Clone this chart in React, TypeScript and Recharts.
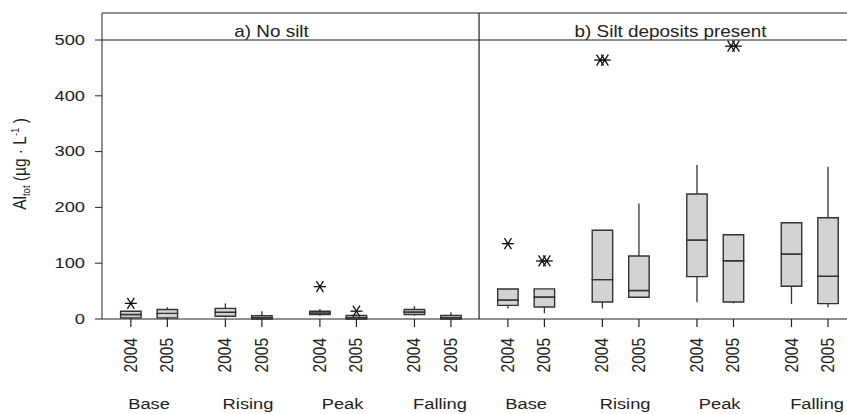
import React from 'react';
import {
  ComposedChart, XAxis, YAxis, Scatter, ReferenceArea, ReferenceLine
} from 'recharts';

// categories
const panels = ['a) No silt', 'b) Silt deposits present'];
const stages = ['Base', 'Rising', 'Peak', 'Falling'];
const years = ['2004', '2005'];
const yTicks = [0, 100, 200, 300, 400, 500];

// box statistics, order: Base04, Base05, Rising04, Rising05, Peak04, Peak05, Falling04, Falling05
const lowA = [0, 0, 3, 0, 6, 0, 6, 0];
const q1A = [2, 2, 5, 0, 8, 0, 8, 0];
const medA = [8, 10, 12, 3, 11, 3, 12.5, 3];
const q3A = [14, 17, 19, 6, 14, 6.5, 17, 6.5];
const highA = [14, 21, 28, 14, 18, 8, 23, 12];
const outA = [[28], [], [], [], [58], [14], [], []];

const lowB = [19, 10, 19, 39, 30, 28, 27, 21];
const q1B = [24.5, 21.5, 30.5, 39, 76, 30.5, 58.6, 27.5];
const medB = [34, 39.4, 70.5, 51, 141.6, 104.5, 116.5, 76.5];
const q3B = [53.8, 54, 159, 113, 224, 151, 172.6, 181.5];
const highB = [53.8, 54, 159, 207, 276, 151, 172.6, 273];
const outB = [[135], [104, 104], [464, 464], [], [], [489, 489], [], []];

// layout on the x scale (one unit = spacing between years)
const X_MAX = 20.41;
const PANEL_W = 10.33;
const FIRST = 0.79;
const GROUP_STEP = 2.59;
const HALF_BOX = 0.28;
const Y_MAX = 548.4;
const labelNudge = [0, 0.12, 0.12, 0.2];

const INK = '#222';
const BOX = '#333';
const FONT = "'Liberation Sans', Arial, sans-serif";
const SX = 1.18;

const stats = [
  { low: lowA, q1: q1A, med: medA, q3: q3A, high: highA, out: outA },
  { low: lowB, q1: q1B, med: medB, q3: q3B, high: highB, out: outB },
];

const boxes = stats.flatMap((s, p) =>
  s.med.map((_, i) => ({
    x: p * PANEL_W + FIRST + Math.floor(i / 2) * GROUP_STEP + (i % 2),
    low: s.low[i], q1: s.q1[i], med: s.med[i], q3: s.q3[i], high: s.high[i], out: s.out[i],
  }))
);
const positions = boxes.map(b => b.x);
const groupCenters = panels.flatMap((_, p) =>
  stages.map((_, g) => p * PANEL_W + FIRST + g * GROUP_STEP + 0.5 + labelNudge[g])
);
const xTicks = [...positions, ...groupCenters];
const outliers = boxes.flatMap(b =>
  b.out.map((v, k) => ({ x: b.x + (k - (b.out.length - 1) / 2) * 0.13, y: v }))
);

const ValueTick = (props: any) => {
  const { x, y, payload } = props;
  return (
    <text transform={`translate(${x},${y + 4.8}) scale(${SX},1)`} textAnchor="end"
      fontSize={15.5} fontFamily={FONT} fill={INK}>{payload.value}</text>
  );
};

// year ticks (with their tick mark) and the stage labels beneath them
const XTick = (props: any) => {
  const { x, y, index } = props;
  if (index < positions.length) {
    return (
      <g>
        <line x1={x} y1={y - 8} x2={x} y2={y} stroke={INK} strokeWidth={1.2} />
        <text transform={`translate(${x + 6},${y + 11}) scale(${SX},1) rotate(-90)`} textAnchor="end"
          fontSize={15.5} fontFamily={FONT} fill={INK}>{years[index % 2]}</text>
      </g>
    );
  }
  const g = (index - positions.length) % stages.length;
  return (
    <text transform={`translate(${x},${y + 82}) scale(${SX},1)`} textAnchor="middle"
      fontSize={15.5} fontFamily={FONT} fill={INK}>{stages[g]}</text>
  );
};

const YTitle = (props: any) => {
  const vb = props.viewBox || { x: 0, y: 13, width: 102, height: 306 };
  const cx = vb.x + 26;
  const cy = vb.y + vb.height / 2 - 2;
  return (
    <text transform={`translate(${cx},${cy}) scale(${SX},1) rotate(-90)`} textAnchor="middle"
      fontSize={15.5} fontFamily={FONT} fill={INK}>
      Al<tspan dy={3} fontSize={9.5}>tot</tspan>
      <tspan dy={-3}> (µg · L</tspan>
      <tspan dy={-6} fontSize={9.5}>-1</tspan>
      <tspan dy={6}> )</tspan>
    </text>
  );
};

const StripTitle = (props: any) => {
  const { viewBox, title, shift } = props;
  if (!viewBox) return null;
  return (
    <text transform={`translate(${viewBox.x + viewBox.width / 2 + shift},${viewBox.y + 23.5}) scale(${SX},1)`}
      textAnchor="middle" fontSize={16} fontFamily={FONT} fill={INK}>{title}</text>
  );
};

const Asterisk = (props: any) => {
  const { cx, cy } = props;
  return (
    <g stroke="#111" strokeWidth={1.3}>
      <line x1={cx - 6} y1={cy} x2={cx + 6} y2={cy} />
      <line x1={cx - 3.5} y1={cy - 5.5} x2={cx + 3.5} y2={cy + 5.5} />
      <line x1={cx - 3.5} y1={cy + 5.5} x2={cx + 3.5} y2={cy - 5.5} />
    </g>
  );
};

export default function App() {
  return (
    <div style={{ position: 'absolute', left: 0, top: 0, width: 847, height: 414, background: '#fff' }}>
      <ComposedChart width={847} height={414} margin={{ top: 13, right: 0, bottom: 0, left: 0 }}>
        <XAxis type="number" dataKey="x" domain={[0, X_MAX]} ticks={xTicks}
          interval={0} height={95} tickSize={8} tickMargin={0} tickLine={false} allowDataOverflow
          stroke={INK} tick={<XTick />} />
        <YAxis type="number" dataKey="y" domain={[0, Y_MAX]} ticks={yTicks} interval={0}
          width={102} tickSize={7} tickMargin={10} allowDataOverflow stroke={INK}
          tick={<ValueTick />} label={<YTitle />} />

        {panels.map((t, p) => (
          <ReferenceArea key={'strip' + p} x1={p * PANEL_W} x2={p === 0 ? PANEL_W : X_MAX}
            y1={500} y2={Y_MAX} fill="#fff" fillOpacity={0} stroke="none" ifOverflow="visible"
            label={<StripTitle title={t} shift={p === 0 ? -19 : 7.5} />} />
        ))}
        <ReferenceLine y={Y_MAX} stroke={INK} strokeWidth={1.2} ifOverflow="visible" />
        <ReferenceLine y={500} stroke={INK} strokeWidth={1.2} ifOverflow="visible" />
        <ReferenceLine x={PANEL_W} stroke={INK} strokeWidth={1.2} ifOverflow="visible" />

        {boxes.map((b, i) => b.low < b.q1 ? (
          <ReferenceLine key={'wl' + i} segment={[{ x: b.x, y: b.low }, { x: b.x, y: b.q1 }]}
            stroke={BOX} strokeWidth={1.3} />
        ) : null)}
        {boxes.map((b, i) => b.high > b.q3 ? (
          <ReferenceLine key={'wh' + i} segment={[{ x: b.x, y: b.q3 }, { x: b.x, y: b.high }]}
            stroke={BOX} strokeWidth={1.3} />
        ) : null)}
        {boxes.map((b, i) => (
          <ReferenceArea key={'lo' + i} x1={b.x - HALF_BOX} x2={b.x + HALF_BOX} y1={b.q1} y2={b.med}
            fill="#d3d3d3" fillOpacity={1} stroke={BOX} strokeWidth={1.4} />
        ))}
        {boxes.map((b, i) => (
          <ReferenceArea key={'hi' + i} x1={b.x - HALF_BOX} x2={b.x + HALF_BOX} y1={b.med} y2={b.q3}
            fill="#d3d3d3" fillOpacity={1} stroke={BOX} strokeWidth={1.4} />
        ))}

        <Scatter data={outliers} dataKey="y" isAnimationActive={false} shape={<Asterisk />} />
      </ComposedChart>
    </div>
  );
}
